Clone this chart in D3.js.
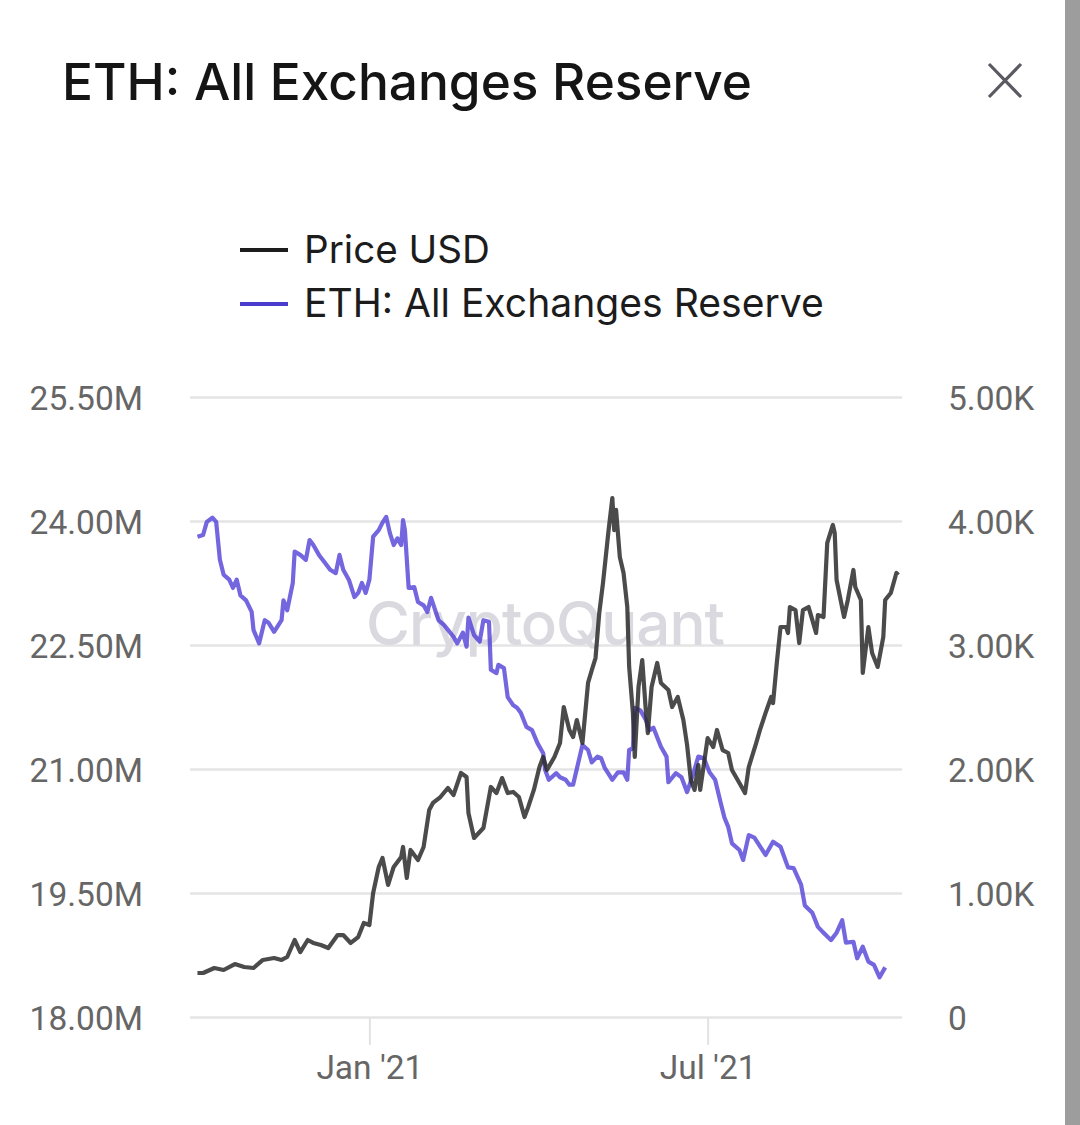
<!DOCTYPE html>
<html>
<head>
<meta charset="utf-8">
<script src="https://cdn.jsdelivr.net/npm/d3@7"></script>
<style>
  html, body { margin: 0; padding: 0; background: #fff; }
  svg { display: block; }
</style>
</head>
<body>
<svg id="chart" width="1080" height="1125"></svg>
<script>
// ---- data ----
var priceDates = ["2020-10-01","2020-10-04","2020-10-10","2020-10-15","2020-10-21","2020-10-26","2020-10-31",
  "2020-11-05","2020-11-11","2020-11-15","2020-11-18","2020-11-22","2020-11-25","2020-11-29",
  "2020-12-02","2020-12-06","2020-12-10","2020-12-15","2020-12-18","2020-12-22","2020-12-26","2020-12-29",
  "2021-01-01","2021-01-03","2021-01-06","2021-01-08","2021-01-11","2021-01-14","2021-01-18","2021-01-19",
  "2021-01-21","2021-01-23","2021-01-27","2021-01-30","2021-02-02","2021-02-04","2021-02-08","2021-02-12",
  "2021-02-15","2021-02-19","2021-02-22","2021-02-23","2021-02-26","2021-03-03","2021-03-07","2021-03-10",
  "2021-03-13","2021-03-16","2021-03-19","2021-03-22","2021-03-25","2021-03-27","2021-03-30","2021-04-02",
  "2021-04-04","2021-04-06","2021-04-10","2021-04-13","2021-04-15","2021-04-18","2021-04-20","2021-04-22",
  "2021-04-25","2021-04-28","2021-04-30","2021-05-02","2021-05-04","2021-05-06","2021-05-09","2021-05-11",
  "2021-05-12","2021-05-13","2021-05-15","2021-05-17","2021-05-19","2021-05-20","2021-05-22","2021-05-23",
  "2021-05-25","2021-05-27","2021-05-29","2021-05-30","2021-06-01","2021-06-04","2021-06-06","2021-06-10",
  "2021-06-12","2021-06-15","2021-06-18","2021-06-20","2021-06-22","2021-06-24","2021-06-26","2021-06-27",
  "2021-07-01","2021-07-04","2021-07-06","2021-07-09","2021-07-12","2021-07-14","2021-07-18","2021-07-21",
  "2021-07-23","2021-07-27","2021-07-29","2021-08-01","2021-08-04","2021-08-05","2021-08-07","2021-08-09",
  "2021-08-12","2021-08-13","2021-08-14","2021-08-17","2021-08-19","2021-08-21","2021-08-24","2021-08-26",
  "2021-08-28","2021-08-29","2021-09-01","2021-09-03","2021-09-06","2021-09-07","2021-09-08","2021-09-12",
  "2021-09-14","2021-09-17","2021-09-18","2021-09-21","2021-09-22","2021-09-25","2021-09-27","2021-09-30",
  "2021-10-03","2021-10-04","2021-10-07","2021-10-10","2021-10-11"];
var priceValues = [355,355,395,379,427,403,395,
  460,476,460,484,621,524,621,
  597,581,556,661,661,597,645,758,
  742,1000,1210,1282,1065,1210,1290,1371,
  1121,1347,1266,1371,1669,1726,1774,1847,
  1790,1968,1935,1645,1444,1524,1855,1806,
  1927,1806,1815,1774,1613,1694,1831,2016,
  2097,1992,2097,2210,2500,2315,2258,2395,
  2210,2694,2798,2895,3258,3500,3927,4185,
  3927,4089,3710,3581,3306,2823,2452,2097,
  2661,2879,2452,2290,2661,2855,2694,2637,
  2500,2581,2395,2194,1911,1831,2032,1831,
  2250,2177,2315,2153,2129,1992,1887,1806,
  2016,2210,2315,2452,2581,2532,2855,3145,
  3145,3097,3306,3282,3016,3282,3306,3202,
  3097,3242,3226,3823,3968,3903,3524,3226,
  3363,3605,3468,3363,2774,3145,2935,2823,
  3065,3363,3419,3581,3565];

var reserveDates = ["2020-10-01","2020-10-04","2020-10-06","2020-10-09","2020-10-11","2020-10-13","2020-10-15",
  "2020-10-18","2020-10-20","2020-10-22","2020-10-24","2020-10-27","2020-10-30","2020-10-31","2020-11-03",
  "2020-11-06","2020-11-08","2020-11-11","2020-11-15","2020-11-16","2020-11-18","2020-11-21","2020-11-22",
  "2020-11-25","2020-11-28","2020-11-30","2020-12-02","2020-12-05","2020-12-08","2020-12-11","2020-12-14",
  "2020-12-16","2020-12-18","2020-12-21","2020-12-24","2020-12-26","2020-12-28","2020-12-30","2021-01-01",
  "2021-01-03","2021-01-06","2021-01-08","2021-01-10","2021-01-12","2021-01-14","2021-01-16","2021-01-18",
  "2021-01-19","2021-01-20","2021-01-22","2021-01-25","2021-01-27","2021-01-30","2021-02-01","2021-02-03",
  "2021-02-07","2021-02-10","2021-02-15","2021-02-17","2021-02-20","2021-02-22","2021-02-23","2021-02-26",
  "2021-03-01","2021-03-03","2021-03-06","2021-03-07","2021-03-10","2021-03-11","2021-03-14","2021-03-16",
  "2021-03-19","2021-03-21","2021-03-23","2021-03-26","2021-03-29","2021-04-01","2021-04-04","2021-04-05",
  "2021-04-07","2021-04-11","2021-04-13","2021-04-16","2021-04-18","2021-04-20","2021-04-25","2021-04-28",
  "2021-04-30","2021-05-03","2021-05-05","2021-05-07","2021-05-11","2021-05-14","2021-05-17","2021-05-19",
  "2021-05-20","2021-05-22","2021-05-23","2021-05-26","2021-05-29","2021-05-31","2021-06-02","2021-06-06",
  "2021-06-09","2021-06-10","2021-06-14","2021-06-17","2021-06-20","2021-06-23","2021-06-26","2021-06-29",
  "2021-07-02","2021-07-05","2021-07-08","2021-07-10","2021-07-12","2021-07-14","2021-07-18","2021-07-20",
  "2021-07-23","2021-07-26","2021-07-28","2021-08-01","2021-08-05","2021-08-09","2021-08-13","2021-08-16",
  "2021-08-20","2021-08-22","2021-08-26","2021-08-29","2021-09-01","2021-09-05","2021-09-08","2021-09-11",
  "2021-09-13","2021-09-17","2021-09-19","2021-09-22","2021-09-25","2021-09-28","2021-10-01","2021-10-04"];
var reserveValues = [23.81,23.83,23.99,24.04,23.99,23.53,23.35,
  23.29,23.19,23.29,23.10,23.04,22.90,22.68,22.52,
  22.80,22.77,22.66,22.80,23.04,22.92,23.25,23.63,
  23.59,23.53,23.77,23.71,23.59,23.50,23.41,23.37,
  23.59,23.41,23.29,23.08,23.13,23.25,23.13,23.29,
  23.81,23.89,23.98,24.05,23.85,23.71,23.79,23.71,
  24.01,23.89,23.19,23.20,23.02,22.98,22.90,23.07,
  22.80,22.74,22.60,22.52,22.65,22.48,22.83,22.62,
  22.54,22.80,22.78,22.20,22.16,22.26,22.22,21.87,
  21.77,21.74,21.68,21.51,21.47,21.31,21.19,20.99,
  20.87,20.95,20.90,20.87,20.81,20.81,21.29,21.23,
  21.08,21.15,21.13,21.01,20.87,20.96,20.96,20.87,
  21.23,21.25,21.74,21.71,21.59,21.47,21.50,21.27,
  21.15,20.84,20.95,20.90,20.72,20.92,21.15,21.13,
  20.96,20.87,20.59,20.41,20.30,20.10,20.02,19.90,
  20.20,20.17,20.10,19.96,20.12,20.06,19.81,19.80,
  19.60,19.35,19.26,19.09,19.02,18.93,19.02,19.17,
  18.90,18.91,18.71,18.85,18.67,18.63,18.48,18.60];

var leftTicks = [18, 19.5, 21, 22.5, 24, 25.5];          // millions
var rightTicks = [0, 1000, 2000, 3000, 4000, 5000];      // USD
var xTickDates = ["2021-01-01", "2021-07-01"];
var xDomain = ["2020-09-27", "2021-10-13"];
var legendLabels = ["Price USD", "ETH: All Exchanges Reserve"];

// ---- setup ----
var parse = d3.timeParse("%Y-%m-%d");
var svg = d3.select("#chart");
var PLOT = { left: 190, right: 902, top: 397, bottom: 1017 };
var priceColor = "#2b2b2b", reserveColor = "#4b3bd6";

function fitWidth(sel, target) {
  var w = sel.node().getComputedTextLength();
  var fs = parseFloat(sel.attr("font-size"));
  sel.attr("font-size", (fs * target / w).toFixed(2));
}

var x = d3.scaleTime()
  .domain(xDomain.map(parse))
  .range([PLOT.left, PLOT.right]);
var yL = d3.scaleLinear().domain([18, 25.5]).range([PLOT.bottom, PLOT.top]);
var yR = d3.scaleLinear().domain([0, 5000]).range([PLOT.bottom, PLOT.top]);

// scrollbar strip on the right edge
svg.append("rect").attr("x", 1065).attr("y", 0).attr("width", 15).attr("height", 1125).attr("fill", "#9d9d9d");

// title + close icon
var title = svg.append("text").attr("x", 62).attr("y", 100)
  .attr("font-family", "Inter, 'Noto Sans', sans-serif").attr("font-weight", 500)
  .attr("font-size", 50).attr("fill", "#151515").text("ETH: All Exchanges Reserve");
fitWidth(title, 690);

svg.append("path").attr("d", "M989,64L1021,97M1021,64L989,97")
  .attr("stroke", "#5a5a62").attr("stroke-width", 3.2).attr("fill", "none");

// legend
var legend = svg.append("g");
[priceColor, reserveColor].forEach(function (c, i) {
  var cy = 250 + i * 54;
  legend.append("line").attr("x1", 240).attr("x2", 288).attr("y1", cy).attr("y2", cy)
    .attr("stroke", i === 0 ? "#1c1c1c" : "#4a3ccc").attr("stroke-width", 4);
  var t = legend.append("text").attr("x", 304).attr("y", cy + 13)
    .attr("font-family", "Inter, 'Noto Sans', sans-serif").attr("font-size", 36)
    .attr("fill", "#1c1c1c").text(legendLabels[i]);
  fitWidth(t, i === 0 ? 186 : 520);
});

var axisFont = "Roboto, sans-serif", axisSize = 33.5;

// left axis with gridlines
var gL = svg.append("g").attr("transform", "translate(" + PLOT.left + ",0)")
  .call(d3.axisLeft(yL).tickValues(leftTicks)
    .tickSize(-(PLOT.right - PLOT.left)).tickPadding(47)
    .tickFormat(function (d) { return d3.format(".2f")(d) + "M"; }));
gL.select(".domain").remove();
gL.selectAll(".tick line").attr("stroke", "#e4e4e6").attr("stroke-width", 2.5);
gL.selectAll(".tick text").attr("font-family", axisFont).attr("font-size", axisSize)
  .attr("fill", "#666").attr("dy", "0.36em");

// right axis labels
var gR = svg.append("g").attr("transform", "translate(" + PLOT.right + ",0)")
  .call(d3.axisRight(yR).tickValues(rightTicks).tickSize(0).tickPadding(46)
    .tickFormat(function (d) { return d === 0 ? "0" : (d / 1000).toFixed(2) + "K"; }));
gR.select(".domain").remove();
gR.selectAll(".tick text").attr("font-family", axisFont).attr("font-size", axisSize)
  .attr("fill", "#666").attr("dy", "0.36em");

// x axis
var gX = svg.append("g").attr("transform", "translate(0," + PLOT.bottom + ")")
  .call(d3.axisBottom(x).tickValues(xTickDates.map(parse)).tickSize(28).tickPadding(10)
    .tickFormat(d3.timeFormat("%b '%y")));
gX.select(".domain").remove();
gX.selectAll(".tick line").attr("stroke", "#e2e2e4").attr("stroke-width", 2);
gX.selectAll(".tick text").attr("font-family", axisFont).attr("font-size", axisSize)
  .attr("fill", "#666");

// watermark
var wm = svg.append("text").attr("x", 545).attr("y", 645).attr("text-anchor", "middle")
  .attr("font-family", "Inter, sans-serif").attr("font-weight", 500).attr("font-size", 60)
  .attr("fill", "#d9d9df").attr("letter-spacing", -1).text("CryptoQuant");
fitWidth(wm, 358);

// series
var reserve = reserveDates.map(function (d, i) { return { date: parse(d), v: reserveValues[i] }; });
var price = priceDates.map(function (d, i) { return { date: parse(d), v: priceValues[i] }; });

svg.append("path").datum(reserve)
  .attr("fill", "none").attr("stroke", reserveColor).attr("stroke-opacity", 0.78)
  .attr("stroke-width", 4.2).attr("stroke-linejoin", "round")
  .attr("d", d3.line().x(function (d) { return x(d.date); }).y(function (d) { return yL(d.v); }));

svg.append("path").datum(price)
  .attr("fill", "none").attr("stroke", priceColor).attr("stroke-opacity", 0.85)
  .attr("stroke-width", 4.2).attr("stroke-linejoin", "round")
  .attr("d", d3.line().x(function (d) { return x(d.date); }).y(function (d) { return yR(d.v); }));
</script>
</body>
</html>
